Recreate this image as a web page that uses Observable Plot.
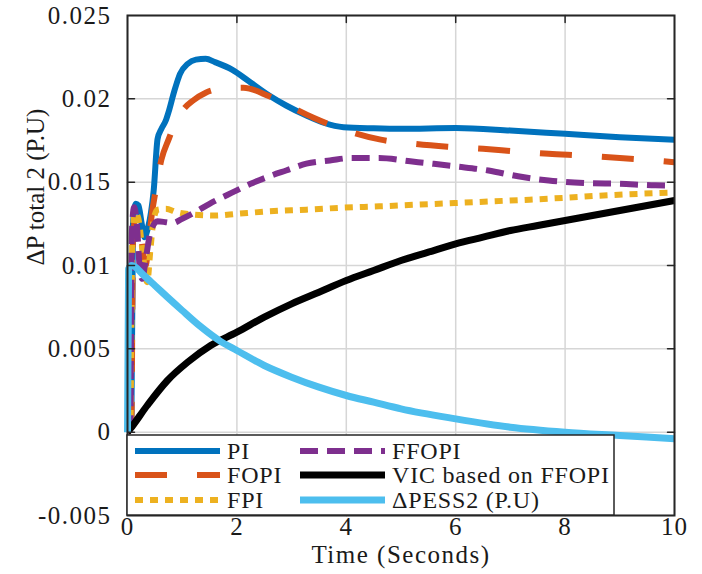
<!DOCTYPE html>
<html><head><meta charset="utf-8">
<script src="https://cdn.jsdelivr.net/npm/d3@7"></script>
<script src="https://cdn.jsdelivr.net/npm/@observablehq/plot@0.6"></script>
<style>body{margin:0;background:#fff}</style>
</head><body><div id="chart"></div>
<script>
// ---- data ----
const tPI  = [0, 0.07, 0.1, 0.15, 0.2, 0.26, 0.31, 0.37, 0.43, 0.48, 0.55, 0.62, 0.7, 0.75, 0.85, 0.96, 1.1, 1.25, 1.43, 1.6, 1.91, 2.2, 2.59, 2.9, 3.27, 3.6, 3.95, 4.5, 5, 6, 7, 8, 9, 10];
const vPI  = [0, 0.0003, 0.0125, 0.0137, 0.0136, 0.0125, 0.0117, 0.0122, 0.0132, 0.01455, 0.0176, 0.0182, 0.0187, 0.0192, 0.0204, 0.0215, 0.0221, 0.02235, 0.0224, 0.0222, 0.02175, 0.0211, 0.0202, 0.0196, 0.0190, 0.01855, 0.0183, 0.01823, 0.0182, 0.01825, 0.0181, 0.0179, 0.0177, 0.01755];

const tFOPI = [0, 0.07, 0.1, 0.15, 0.2, 0.27, 0.33, 0.4, 0.45, 0.51, 0.62, 0.75, 0.88, 1.02, 1.2, 1.43, 1.7, 2.12, 2.59, 3.0, 3.4, 4.0, 4.63, 5.25, 5.85, 6.5, 7.08, 7.7, 8.34, 9.0, 9.6, 10];
const vFOPI = [0, 0.0003, 0.0115, 0.0130, 0.0128, 0.0112, 0.0100, 0.0118, 0.0132, 0.0144, 0.01635, 0.01755, 0.0186, 0.01935, 0.0199, 0.02037, 0.0206, 0.02067, 0.02015, 0.0195, 0.01887, 0.0181, 0.01755, 0.0173, 0.01713, 0.0170, 0.01685, 0.0167, 0.01659, 0.01645, 0.01631, 0.0162];

const tFPI = [0, 0.05, 0.09, 0.14, 0.2, 0.27, 0.36, 0.42, 0.48, 0.55, 0.7, 0.9, 1.22, 1.6, 2.0, 2.59, 3.27, 3.95, 4.6, 5.3, 6.0, 6.67, 7.35, 8.03, 8.7, 9.35, 10];
const vFPI = [0, 0.0003, 0.0115, 0.0132, 0.0128, 0.0110, 0.0090, 0.0110, 0.0128, 0.01335, 0.0134, 0.0132, 0.01305, 0.0130, 0.0131, 0.01325, 0.01335, 0.01347, 0.01355, 0.01365, 0.01375, 0.01385, 0.01395, 0.01407, 0.0142, 0.0143, 0.01437];

const tFFOPI = [0, 0.05, 0.08, 0.12, 0.17, 0.22, 0.27, 0.33, 0.42, 0.55, 0.7, 0.82, 1.0, 1.22, 1.5, 1.91, 2.25, 2.59, 2.9, 3.27, 3.7, 4.09, 4.6, 5.17, 5.6, 5.99, 6.6, 7.14, 7.7, 8.37, 9.0, 9.65, 10];
const vFFOPI = [0, 0.0003, 0.0120, 0.0135, 0.0125, 0.0100, 0.0092, 0.0103, 0.0120, 0.01265, 0.0126, 0.01255, 0.0128, 0.01317, 0.0137, 0.01437, 0.0149, 0.01535, 0.0157, 0.01611, 0.0163, 0.01645, 0.01645, 0.01625, 0.0161, 0.01595, 0.0157, 0.01535, 0.0151, 0.01495, 0.0149, 0.01481, 0.0148];

const tVIC = [0, 0.05, 0.36, 0.73, 1.1, 1.52, 2, 2.5, 3, 3.5, 4, 4.5, 5, 5.5, 6, 6.5, 7, 7.5, 8, 8.5, 9, 9.5, 10];
const vVIC = [0, 0.0002, 0.0016, 0.0031, 0.0042, 0.0052, 0.0060, 0.0069, 0.0077, 0.0084, 0.0091, 0.0097, 0.0103, 0.0108, 0.0113, 0.0117, 0.0121, 0.0124, 0.0127, 0.0130, 0.0133, 0.0136, 0.0139];

const tESS = [0, 0.02, 0.08, 0.3, 0.5, 0.73, 1.0, 1.33, 1.7, 2, 2.5, 3, 3.5, 4, 4.5, 5, 6, 7, 8, 9, 10];
const vESS = [0, 0.0098, 0.0100, 0.0094, 0.0088, 0.0081, 0.0073, 0.00635, 0.00545, 0.0049, 0.0040, 0.0033, 0.0027, 0.0022, 0.0018, 0.0014, 0.0008, 0.0003, 0.0000, -0.0002, -0.0004];

const seriesNames = ["PI", "FOPI", "FPI", "FFOPI", "VIC based on FFOPI", "\u0394PESS2 (P.U)"];
const xTicks = [0, 2, 4, 6, 8, 10];
const yTicks = [-0.005, 0, 0.005, 0.01, 0.015, 0.02, 0.025];
const yTickLabels = ["-0.005", "0", "0.005", "0.01", "0.015", "0.02", "0.025"];
const xLabel = "Time (Seconds)";
const yLabel = "\u0394P total 2 (P.U)";

// ---- styles ----
const seriesT = [tPI, tFOPI, tFPI, tFFOPI, tVIC, tESS];
const seriesV = [vPI, vFOPI, vFPI, vFFOPI, vVIC, vESS];
const styles = [
  {color: "#0072BD", width: 6, dash: null},
  {color: "#D95319", width: 6, dash: "32,30"},
  {color: "#EDB120", width: 6, dash: "8,7"},
  {color: "#7E2F8E", width: 6, dash: "18,9"},
  {color: "#000000", width: 7, dash: null},
  {color: "#4DBEEE", width: 7, dash: null}
];
const FONT = "Liberation Serif, Times New Roman, serif";
const INK = "#1a1a1a";

const rows = seriesNames.map((name, i) => seriesT[i].map((t, j) => ({t, v: seriesV[i][j], s: name})));

const tickShape = {draw(context, l) { context.moveTo(0, 0); context.lineTo(0, -l); }};
const tickOpts = {length: 7, shape: tickShape, anchor: "start", stroke: "#262626", strokeWidth: 1.5};
const innerX = xTicks.slice(1, -1);
const innerY = yTicks.slice(1, -1);

const chart = Plot.plot({
  width: 702,
  height: 574,
  marginLeft: 127,
  marginRight: 28,
  marginTop: 15,
  marginBottom: 59,
  style: {fontFamily: FONT, fontSize: "25px", color: INK, background: "#fff"},
  x: {domain: [0, 10]},
  y: {domain: [-0.005, 0.025]},
  marks: [
    Plot.gridX(xTicks, {stroke: "#d6d6d6", strokeOpacity: 1, strokeWidth: 1.5}),
    Plot.gridY(yTicks, {stroke: "#d6d6d6", strokeOpacity: 1, strokeWidth: 1.5}),
    ...rows.map((r, i) => Plot.line(r, {
      x: "t", y: "v",
      stroke: styles[i].color,
      strokeWidth: styles[i].width,
      strokeDasharray: styles[i].dash,
      strokeLinecap: "butt",
      strokeLinejoin: "round",
      curve: "monotone-x"
    })),
    Plot.vector(innerY, {x: () => 0, y: d => d, rotate: 90, ...tickOpts}),
    Plot.vector(innerY, {x: () => 10, y: d => d, rotate: -90, ...tickOpts}),
    Plot.vector(innerX, {x: d => d, y: () => -0.005, rotate: 0, ...tickOpts}),
    Plot.vector(innerX, {x: d => d, y: () => 0.025, rotate: 180, ...tickOpts}),
    Plot.frame({stroke: "#262626", strokeWidth: 2}),
    Plot.axisX(xTicks, {tickSize: 0, tickPadding: 2, tickFormat: d => String(d), label: null,
      fontFamily: FONT, fontSize: 25, fill: INK}),
    Plot.axisY(yTicks, {tickSize: 0, tickPadding: 16, tickFormat: d => yTickLabels[yTicks.indexOf(d)], label: null,
      fontFamily: FONT, fontSize: 25, fill: INK}),
    Plot.text([xLabel], {frameAnchor: "bottom", dy: 47, text: d => d, fontSize: 25, fontFamily: FONT, fill: INK}),
    Plot.text([yLabel], {frameAnchor: "left", dx: -92, rotate: -90, text: d => d, fontSize: 25, fontFamily: FONT, fill: INK})
  ]
});

// ---- text widening to match the reference's horizontally stretched type ----
const svg = d3.select(chart);
svg.selectAll("g[aria-label='y-axis tick label'] text").style("letter-spacing", "1.5px");
svg.selectAll("g[aria-label='x-axis tick label'] text").style("letter-spacing", "1px");
svg.selectAll("g[aria-label='text'] text").filter(function() { return this.textContent === xLabel; })
  .style("letter-spacing", "1.5px");

// ---- legend (inside the axes, lower-left) ----
const L = {x: 127, y: 435, w: 487, h: 80, rows: [451, 475, 500], cols: [{s0: 135, s1: 220, tx: 227}, {s0: 300, s1: 385, tx: 392}]};
const lg = svg.append("g").attr("text-anchor", "start");
lg.append("rect").attr("x", L.x).attr("y", L.y).attr("width", L.w).attr("height", L.h)
  .attr("fill", "#fff").attr("stroke", "#262626").attr("stroke-width", 1.5);
seriesNames.forEach((name, i) => {
  const c = L.cols[Math.floor(i / 3)], ry = L.rows[i % 3], st = styles[i];
  lg.append("line").attr("x1", c.s0).attr("x2", c.s1).attr("y1", ry).attr("y2", ry)
    .attr("stroke", st.color).attr("stroke-width", st.width)
    .attr("stroke-dasharray", st.dash).attr("stroke-linecap", "butt");
  lg.append("text").attr("x", c.tx).attr("y", ry).attr("dy", "0.33em")
    .attr("text-anchor", "start").style("letter-spacing", "0.8px")
    .attr("font-family", FONT).attr("font-size", 24).attr("fill", INK).text(name);
});

document.getElementById("chart").appendChild(chart);
</script>
</body></html>
